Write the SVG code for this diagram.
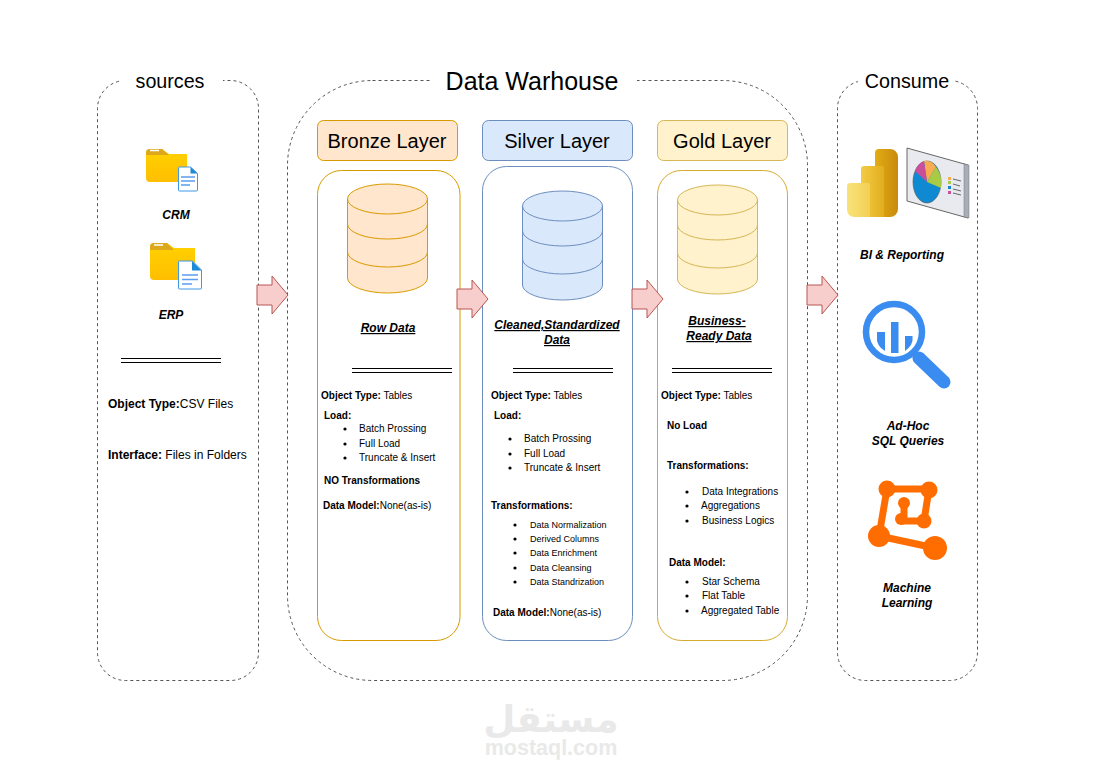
<svg xmlns="http://www.w3.org/2000/svg" width="1102" height="776" viewBox="0 0 1102 776">
<style>
text{font-family:"Liberation Sans",Arial,sans-serif;fill:#000}
.ttl{font-size:19.700px;text-anchor:middle}
.wh{font-size:25px;text-anchor:middle}
.lay{font-size:20px;text-anchor:middle}
.cap{font-size:12px;font-weight:bold;font-style:italic;text-anchor:middle}
.u{text-decoration:underline}
.t{font-size:10px}
.s{font-size:9px}
.m{font-size:12px}
.b{font-weight:bold}
.box{fill:none;stroke:#555;stroke-width:1;stroke-dasharray:3 3}
.gap{fill:#fff;stroke:none}
.br{fill:#ffe6cc;stroke:#d79b00}
.si{fill:#dae8fc;stroke:#6c8ebf}
.go{fill:#fff2cc;stroke:#d6b656}
.cont{fill:none}
.arr{fill:#f8cecc;stroke:#b85450;stroke-width:1}
.rule{stroke:#000;stroke-width:1;fill:none}
.dot{fill:#000}
.fold{fill:#ffc800}
.tab{fill:#dca81c}
.doc{fill:#fff;stroke:#3f97e8;stroke-width:1}
.docl{stroke:#5b9df0;stroke-width:1.300;fill:none}
.mag{fill:none;stroke:#3b8cf0}
.ml{stroke:#ff6d00;fill:none;stroke-width:7;stroke-linecap:round;stroke-linejoin:round}
.mln{fill:#ff6d00}
</style>
<defs>
<path id="cyl" d="M0 15A40 15 0 0 1 80 15V94A40 15 0 0 1 0 94Z"/>
<path id="cyll" d="M0 15A40 15 0 0 0 80 15M0 40A40 15 0 0 0 80 40M0 68A40 15 0 0 0 80 68" fill="none"/>
<path id="arrow" d="M0 9H15V0L31 19L15 38V29H0Z"/>
<g id="rules"><path class="rule" d="M0 .5H100M0 4.500H100"/></g>
<circle id="bl" class="dot" r="1.600"/>
<linearGradient id="g1" x1="0" x2="1" y1="0" y2="0"><stop offset="0" stop-color="#e2ac14"/><stop offset="1" stop-color="#c98a0c"/></linearGradient>
<linearGradient id="g2" x1="0" x2="1" y1="0" y2="0"><stop offset="0" stop-color="#f3cb45"/><stop offset="1" stop-color="#e2ad1e"/></linearGradient>
<linearGradient id="g3" x1="0" x2="1" y1="0" y2="0"><stop offset="0" stop-color="#f9e27c"/><stop offset="1" stop-color="#f3d054"/></linearGradient>
<linearGradient id="g4" x1="0" x2="0" y1="0" y2="1"><stop offset="0" stop-color="#ffd200"/><stop offset="1" stop-color="#ffbe00"/></linearGradient>
</defs>

<g id="sources">
<rect class="box" x="97.500" y="80.500" width="161" height="600" rx="28"/>
<rect class="gap" x="120" y="70" width="103" height="24"/>
<text class="ttl" x="170" y="88">sources</text>
<g id="crm">
<path d="M146 153a4 4 0 0 1 4-4h12l7 5h18v28h-37a4 4 0 0 1-4-4Z" fill="url(#g4)"/>
<path class="tab" d="M146 155v-2a4 4 0 0 1 4-4h12l7 6Z"/>
<path d="M150 150.500h9" stroke="#fff" stroke-width="1.500"/>
<path class="doc" d="M178.500 168a1 1 0 0 1 1-1h11l7 6.500v16.500a1 1 0 0 1-1 1h-17a1 1 0 0 1-1-1Z"/>
<path d="M190.500 167l7 6.500h-7Z" fill="#1c8ad8"/>
<path class="docl" d="M181 177h14M181 181h14M181 185h9"/>
<text class="cap" x="176" y="219">CRM</text>
</g>
<g id="erp">
<path d="M150 247a4 4 0 0 1 4-4h13l7 5h21v32h-41a4 4 0 0 1-4-4Z" fill="url(#g4)"/>
<path class="tab" d="M150 250v-3a4 4 0 0 1 4-4h13l7 7Z"/>
<path d="M154 245h9" stroke="#fff" stroke-width="1.500"/>
<path class="doc" d="M178.500 262a1 1 0 0 1 1-1h13l9 9v18a1 1 0 0 1-1 1h-21a1 1 0 0 1-1-1Z"/>
<path d="M192 261l9.500 9.500h-9.500Z" fill="#1c8ad8"/>
<path class="docl" d="M182 275h16M182 279.500h16M182 284h10"/>
<text class="cap" x="171" y="319">ERP</text>
</g>
<use href="#rules" x="121" y="358"/>
<text class="m" x="108" y="408"><tspan class="b">Object Type:</tspan>CSV Files</text>
<text class="m" x="108" y="459"><tspan class="b">Interface:</tspan> Files in Folders</text>
</g>

<g id="warehouse">
<rect class="box" x="287.500" y="80.500" width="520" height="600" rx="85"/>
<rect class="gap" x="430" y="66" width="207" height="30"/>
<text class="wh" x="532" y="90">Data Warhouse</text>
</g>

<g id="bronze">
<rect class="br" x="317.500" y="120.500" width="140" height="40" rx="6"/>
<text class="lay" x="387" y="148">Bronze Layer</text>
<rect class="cont" x="317.500" y="170.500" width="142.500" height="470" rx="24" stroke="#d79b00"/>
<g transform="translate(347.500 184)"><use href="#cyl" class="br"/><use href="#cyll" stroke="#d79b00"/></g>
<text class="cap u" x="388" y="332">Row Data</text>
<use href="#rules" x="352" y="368"/>
<text class="t" x="321" y="399"><tspan class="b">Object Type:</tspan> Tables</text>
<text class="t b" x="324" y="419">Load:</text>
<use href="#bl" x="345" y="429"/><text class="t" x="359" y="432">Batch Prossing</text>
<use href="#bl" x="345" y="444"/><text class="t" x="359" y="447">Full Load</text>
<use href="#bl" x="345" y="458"/><text class="t" x="359" y="461">Truncate &amp; Insert</text>
<text class="t b" x="324" y="484">NO Transformations</text>
<text class="t" x="323" y="509"><tspan class="b">Data Model:</tspan>None(as-is)</text>
</g>

<g id="silver">
<rect class="si" x="482.500" y="120.500" width="150" height="40" rx="6"/>
<text class="lay" x="557" y="148">Silver Layer</text>
<rect class="cont" x="482.500" y="166.500" width="150" height="474" rx="24" stroke="#6c8ebf"/>
<g transform="translate(522.500 191)"><use href="#cyl" class="si"/><use href="#cyll" stroke="#6c8ebf"/></g>
<text class="cap u" x="557" y="329">Cleaned,Standardized</text>
<text class="cap u" x="557" y="344">Data</text>
<use href="#rules" x="513" y="368"/>
<text class="t" x="491" y="399"><tspan class="b">Object Type:</tspan> Tables</text>
<text class="t b" x="494" y="419">Load:</text>
<use href="#bl" x="510" y="439"/><text class="t" x="524" y="442">Batch Prossing</text>
<use href="#bl" x="510" y="454"/><text class="t" x="524" y="457">Full Load</text>
<use href="#bl" x="510" y="468"/><text class="t" x="524" y="471">Truncate &amp; Insert</text>
<text class="t b" x="491" y="509">Transformations:</text>
<use href="#bl" x="515" y="525"/><text class="s" x="530" y="528">Data Normalization</text>
<use href="#bl" x="515" y="539"/><text class="s" x="530" y="542">Derived Columns</text>
<use href="#bl" x="515" y="553"/><text class="s" x="530" y="556">Data Enrichment</text>
<use href="#bl" x="515" y="568"/><text class="s" x="530" y="571">Data Cleansing</text>
<use href="#bl" x="515" y="582"/><text class="s" x="530" y="585">Data Standrization</text>
<text class="t" x="493" y="616"><tspan class="b">Data Model:</tspan>None(as-is)</text>
</g>

<g id="gold">
<rect class="go" x="657.500" y="120.500" width="130" height="40" rx="6"/>
<text class="lay" x="722" y="148">Gold Layer</text>
<rect class="cont" x="657.500" y="170.500" width="130" height="470" rx="24" stroke="#d6a92f"/>
<g transform="translate(677.500 185)"><use href="#cyl" class="go"/><use href="#cyll" stroke="#d6b656"/></g>
<text class="cap u" x="717" y="325">Business-</text>
<text class="cap u" x="719" y="340">Ready Data</text>
<use href="#rules" x="672" y="368"/>
<text class="t" x="661" y="399"><tspan class="b">Object Type:</tspan> Tables</text>
<text class="t b" x="667" y="429">No Load</text>
<text class="t b" x="667" y="469">Transformations:</text>
<use href="#bl" x="687" y="492"/><text class="t" x="702" y="495">Data Integrations</text>
<use href="#bl" x="687" y="506"/><text class="t" x="701" y="509">Aggregations</text>
<use href="#bl" x="687" y="521"/><text class="t" x="702" y="524">Business Logics</text>
<text class="t b" x="669" y="566">Data Model:</text>
<use href="#bl" x="687" y="582"/><text class="t" x="702" y="585">Star Schema</text>
<use href="#bl" x="687" y="596"/><text class="t" x="702" y="599">Flat Table</text>
<use href="#bl" x="687" y="611"/><text class="t" x="701" y="614">Aggregated Table</text>
</g>

<g id="consume">
<rect class="box" x="837.500" y="80.500" width="140" height="600" rx="28"/>
<rect class="gap" x="858" y="70" width="95" height="24"/>
<text class="ttl" x="907" y="88">Consume</text>
<g id="bi">
<path d="M875 153a4 4 0 0 1 4-4h11a8 8 0 0 1 8 8v52a8 8 0 0 1-8 8h-15Z" fill="url(#g1)"/>
<path d="M861 169a3 3 0 0 1 3-3h18a2 2 0 0 1 2 2v49h-23Z" fill="url(#g2)"/>
<path d="M847 186a3 3 0 0 1 3-3h18a2 2 0 0 1 2 2v32h-16a7 7 0 0 1-7-7Z" fill="url(#g3)"/>
<path d="M907 148l61 17v53l-61-17Z" fill="#e8eaef" stroke="#666"/>
<path d="M964 164l5 1v53l-5-1Z" fill="#a9adb8" stroke="#777" stroke-width=".5"/>
<ellipse cx="927" cy="182" rx="14" ry="21" fill="#0f8ad2" stroke="#555" stroke-width=".6"/>
<path d="M927 182L924 161A14 21 0 0 1 936 167Z" fill="#f7ac52"/>
<path d="M927 182L936 167A14 21 0 0 1 941 188Z" fill="#a9ca44"/>
<path d="M927 182L915 171A14 21 0 0 1 924 161Z" fill="#c94f9b"/>
<rect x="948" y="177" width="3" height="3" fill="#f7ac52"/>
<rect x="948" y="181" width="3" height="3" fill="#a9ca44"/>
<rect x="948" y="186" width="3" height="3" fill="#0f8ad2"/>
<rect x="948" y="191" width="3" height="3" fill="#c94f9b"/>
<path d="M953 179l8 2M953 184l7 2M953 189l8 2M953 193l8 2" stroke="#444" stroke-width=".8"/>
<text class="cap" x="902" y="259">BI &amp; Reporting</text>
</g>
<g id="adhoc">
<circle class="mag" cx="894" cy="332" r="28" stroke-width="6.500"/>
<path d="M877 332h8v19l-4-3q-3-3-4-7ZM891 322h7.500v31h-7.500ZM905 336h7.500v5q-1 4-4 7l-3.500 3Z" fill="#3b8cf0"/>
<path d="M919 358L944 382" stroke="#3b8cf0" stroke-width="13" stroke-linecap="round"/>
<text class="cap" x="908" y="430">Ad-Hoc</text>
<text class="cap" x="908" y="445">SQL Queries</text>
</g>
<g id="ml">
<path class="ml" d="M887 489H929L924 521H902M904 521L904 503M887 489L879 536L935 548"/>
<circle class="mln" cx="887" cy="489" r="8.500"/>
<circle class="mln" cx="929" cy="490" r="8.500"/>
<circle class="mln" cx="879" cy="536" r="11"/>
<circle class="mln" cx="935" cy="548" r="12"/>
<circle class="mln" cx="904" cy="503" r="6"/>
<circle class="mln" cx="901" cy="519" r="6"/>
<circle class="mln" cx="924" cy="521" r="7.500"/>
<text class="cap" x="907" y="592">Machine</text>
<text class="cap" x="907" y="607">Learning</text>
</g>
</g>

<g id="connectors">
<use href="#arrow" class="arr" x="257" y="276"/>
<use href="#arrow" class="arr" x="457" y="280"/>
<use href="#arrow" class="arr" x="632" y="280"/>
<use href="#arrow" class="arr" x="807" y="276"/>
</g>

<g id="watermark">
<text x="551" y="732" style="font-family:'DejaVu Sans',sans-serif;font-size:37px;font-weight:bold;fill:#e9e9e9;text-anchor:middle">مستقل</text>
<text x="551" y="755" style="font-size:21.500px;font-weight:bold;fill:#e9e9e9;text-anchor:middle">mostaql.com</text>
</g>
</svg>
